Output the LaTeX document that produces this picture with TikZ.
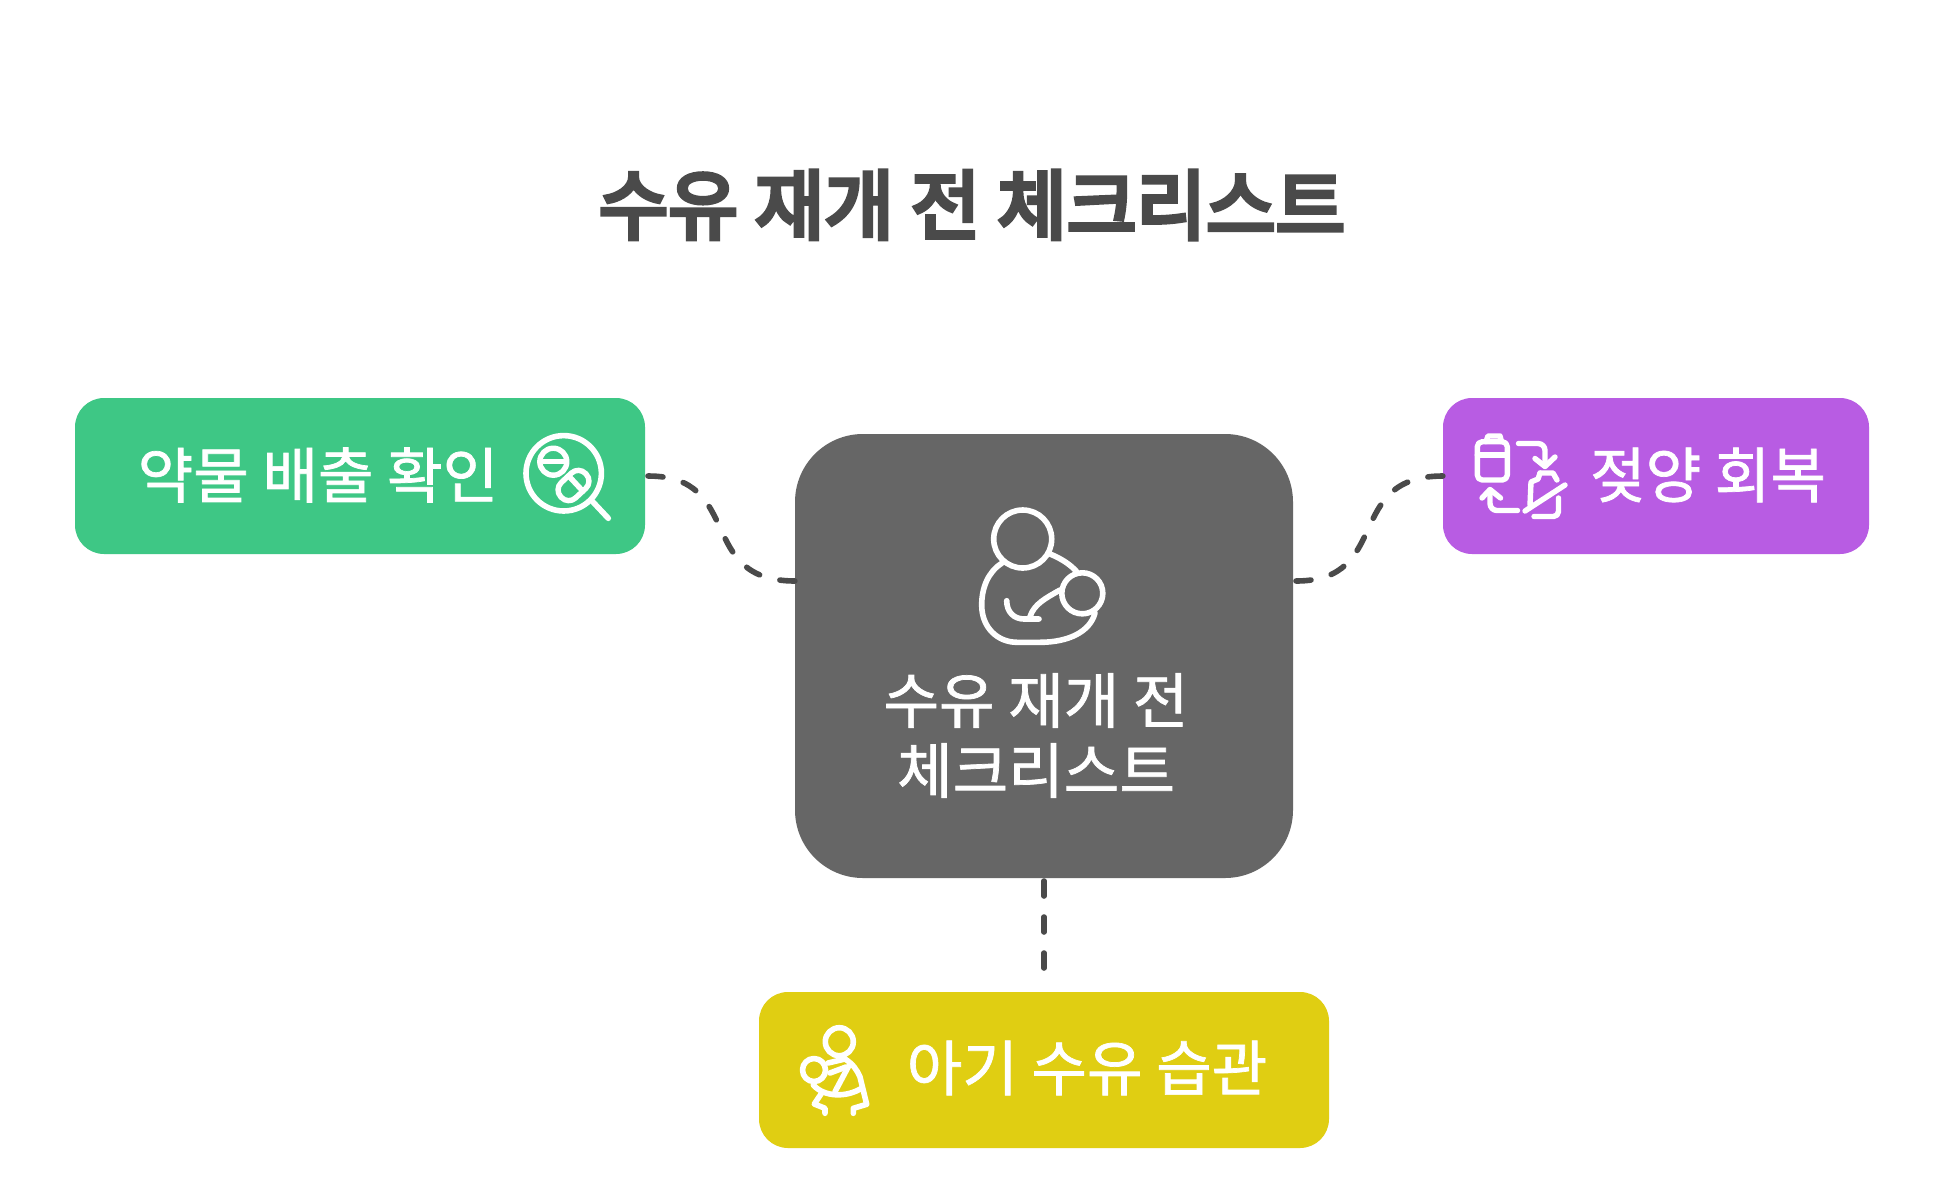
\documentclass[tikz,border=0pt]{standalone}
\usepackage{fontspec}
\setmainfont{Noto Sans CJK KR}
\newfontfamily\titlefont[FakeBold=6]{Noto Sans CJK KR}
\newfontfamily\labelfont[FakeBold=1.2]{Noto Sans CJK KR}
\definecolor{ink}{HTML}{4A4A4A}
\definecolor{hub}{HTML}{666666}
\definecolor{greenbox}{HTML}{3EC785}
\definecolor{purplebox}{HTML}{B85CE3}
\definecolor{yellowbox}{HTML}{E0CE12}
\tikzset{
  x=1pt,y=-1pt,
  cardbox/.style={rounded corners=29pt,inner sep=0pt,outer sep=0pt,minimum height=156pt},
  hubbox/.style={rounded corners=68pt,fill=hub,inner sep=0pt,outer sep=0pt,minimum width=498pt,minimum height=444pt},
  label/.style={text=white,font=\labelfont\fontsize{60.4}{70}\selectfont,inner sep=0pt,align=center},
  link/.style={draw=ink,line width=5.6pt,line cap=round,dash pattern=on 15pt off 21pt},
  icon/.style={draw=white,line width=5.6pt,line cap=round,line join=round},
  iconthin/.style={draw=white,line width=5.4pt,line cap=round,line join=round},
}
\begin{document}
\begin{tikzpicture}
\useasboundingbox (0,0) rectangle (1944,1192);
\fill[white] (0,0) rectangle (1944,1192);
\node[font=\titlefont\fontsize{75.6}{80}\selectfont,text=ink,inner sep=0pt] (title) at (972,205) {수유 재개 전 체크리스트};

\node[hubbox] (hub) at (1044,656) {};
\node[cardbox,fill=greenbox,minimum width=570pt] (drug) at (360,476) {};
\node[cardbox,fill=purplebox,minimum width=426pt] (milk) at (1656,476) {};
\node[cardbox,fill=yellowbox,minimum width=570pt] (baby) at (1044,1070) {};

\coordinate (hubL) at (795,581);
\coordinate (drugR) at (648,476);
\coordinate (hubRs) at (1296,581);
\draw[link] (drugR) .. controls (745,476) and (695,581) .. (hubL);
\draw[link] (hubRs) .. controls (1393,581) and (1343,476) .. (milk.west);
\draw[link,shorten <=3pt,shorten >=22pt] (hub.south) -- (baby.north);

\node[label] (drugtext) at (318,475) {약물 배출 확인};
\node[label] (milktext) at (1708,475) {젖양 회복};
\node[label] (babytext) at (1087,1068) {아기 수유 습관};
\node[label] (hubtext) at (1036,735.5) {수유 재개 전\\체크리스트};

% hub icon
\draw[icon] (1022.7,539) circle (29);
\draw[icon] (1082.3,593.3) circle (20.5);
\draw[icon] (1001.7,563.3) .. controls (988,572) and (981.7,588) .. (981.7,605) .. controls (981.7,628) and (998,642.3) .. (1017,642.3) -- (1040,642.3) .. controls (1068,642.3) and (1090,632) .. (1095,613);
\draw[icon] (1050,554) .. controls (1060,558) and (1070,564) .. (1076.7,571.7);
\draw[icon] (1006.7,600.7) .. controls (1006.7,612) and (1014,619) .. (1024,619) -- (1039,619);
\draw[icon] (1030,616.7) .. controls (1034,604) and (1046,598) .. (1060,590);

% drug icon
\draw[icon] (563.7,473.3) circle (37.7);
\draw[icon] (592.7,501.7) -- (608.3,518.3);
\draw[iconthin] (553.3,461.7) circle (13.5);
\draw[iconthin] (543,461.7) -- (563.6,461.7);
\begin{scope}[shift={(573.5,485.5)},rotate=43]
  \draw[iconthin,rounded corners=10pt] (-17,-10.5) rectangle (17,10.5);
  \draw[iconthin] (3,-10.5) -- (3,10.5);
\end{scope}

% milk icon
\draw[iconthin,rounded corners=5pt] (1477.3,441.7) rectangle (1507.3,480);
\draw[iconthin] (1486,441.7) -- (1488,436) -- (1500,436) -- (1501.5,441.7);
\draw[iconthin] (1477.3,455) -- (1507.3,455);
\draw[iconthin,rounded corners=7pt] (1518.5,443.5) -- (1545,443.5) -- (1545,466);
\draw[iconthin] (1535,458.5) -- (1545,466.5) -- (1555,457);
\draw[iconthin,rounded corners=7pt] (1517.5,510.5) -- (1490,510.5) -- (1490,490);
\draw[iconthin] (1482,498) -- (1490,489.5) -- (1500.5,498);
\draw[iconthin] (1540,473) -- (1553,473) -- (1557,480);
\draw[iconthin] (1540,473) -- (1538,479) -- (1531,482) -- (1530,505);
\draw[iconthin] (1525,511) -- (1565,485);
\draw[iconthin,rounded corners=5pt] (1558.5,498) -- (1558.5,516.5) -- (1534,516.5);

% baby icon
\draw[icon] (839.3,1041.7) circle (14);
\draw[icon] (814,1070) circle (11.5);
\draw[icon] (828,1063) -- (845,1059) .. controls (853,1064) and (857,1070) .. (860,1077) -- (866.7,1104.3) -- (853.3,1108.3) -- (853.3,1113.3);
\draw[icon] (830,1073) -- (846,1067);
\draw[icon] (835,1091.7) -- (848.3,1066.7);
\draw[icon] (813.3,1085) .. controls (824,1097) and (846,1098) .. (862,1088);
\draw[icon] (821.7,1093) -- (814.3,1104) -- (825,1108.3) -- (825,1113.3);
\end{tikzpicture}
\end{document}
